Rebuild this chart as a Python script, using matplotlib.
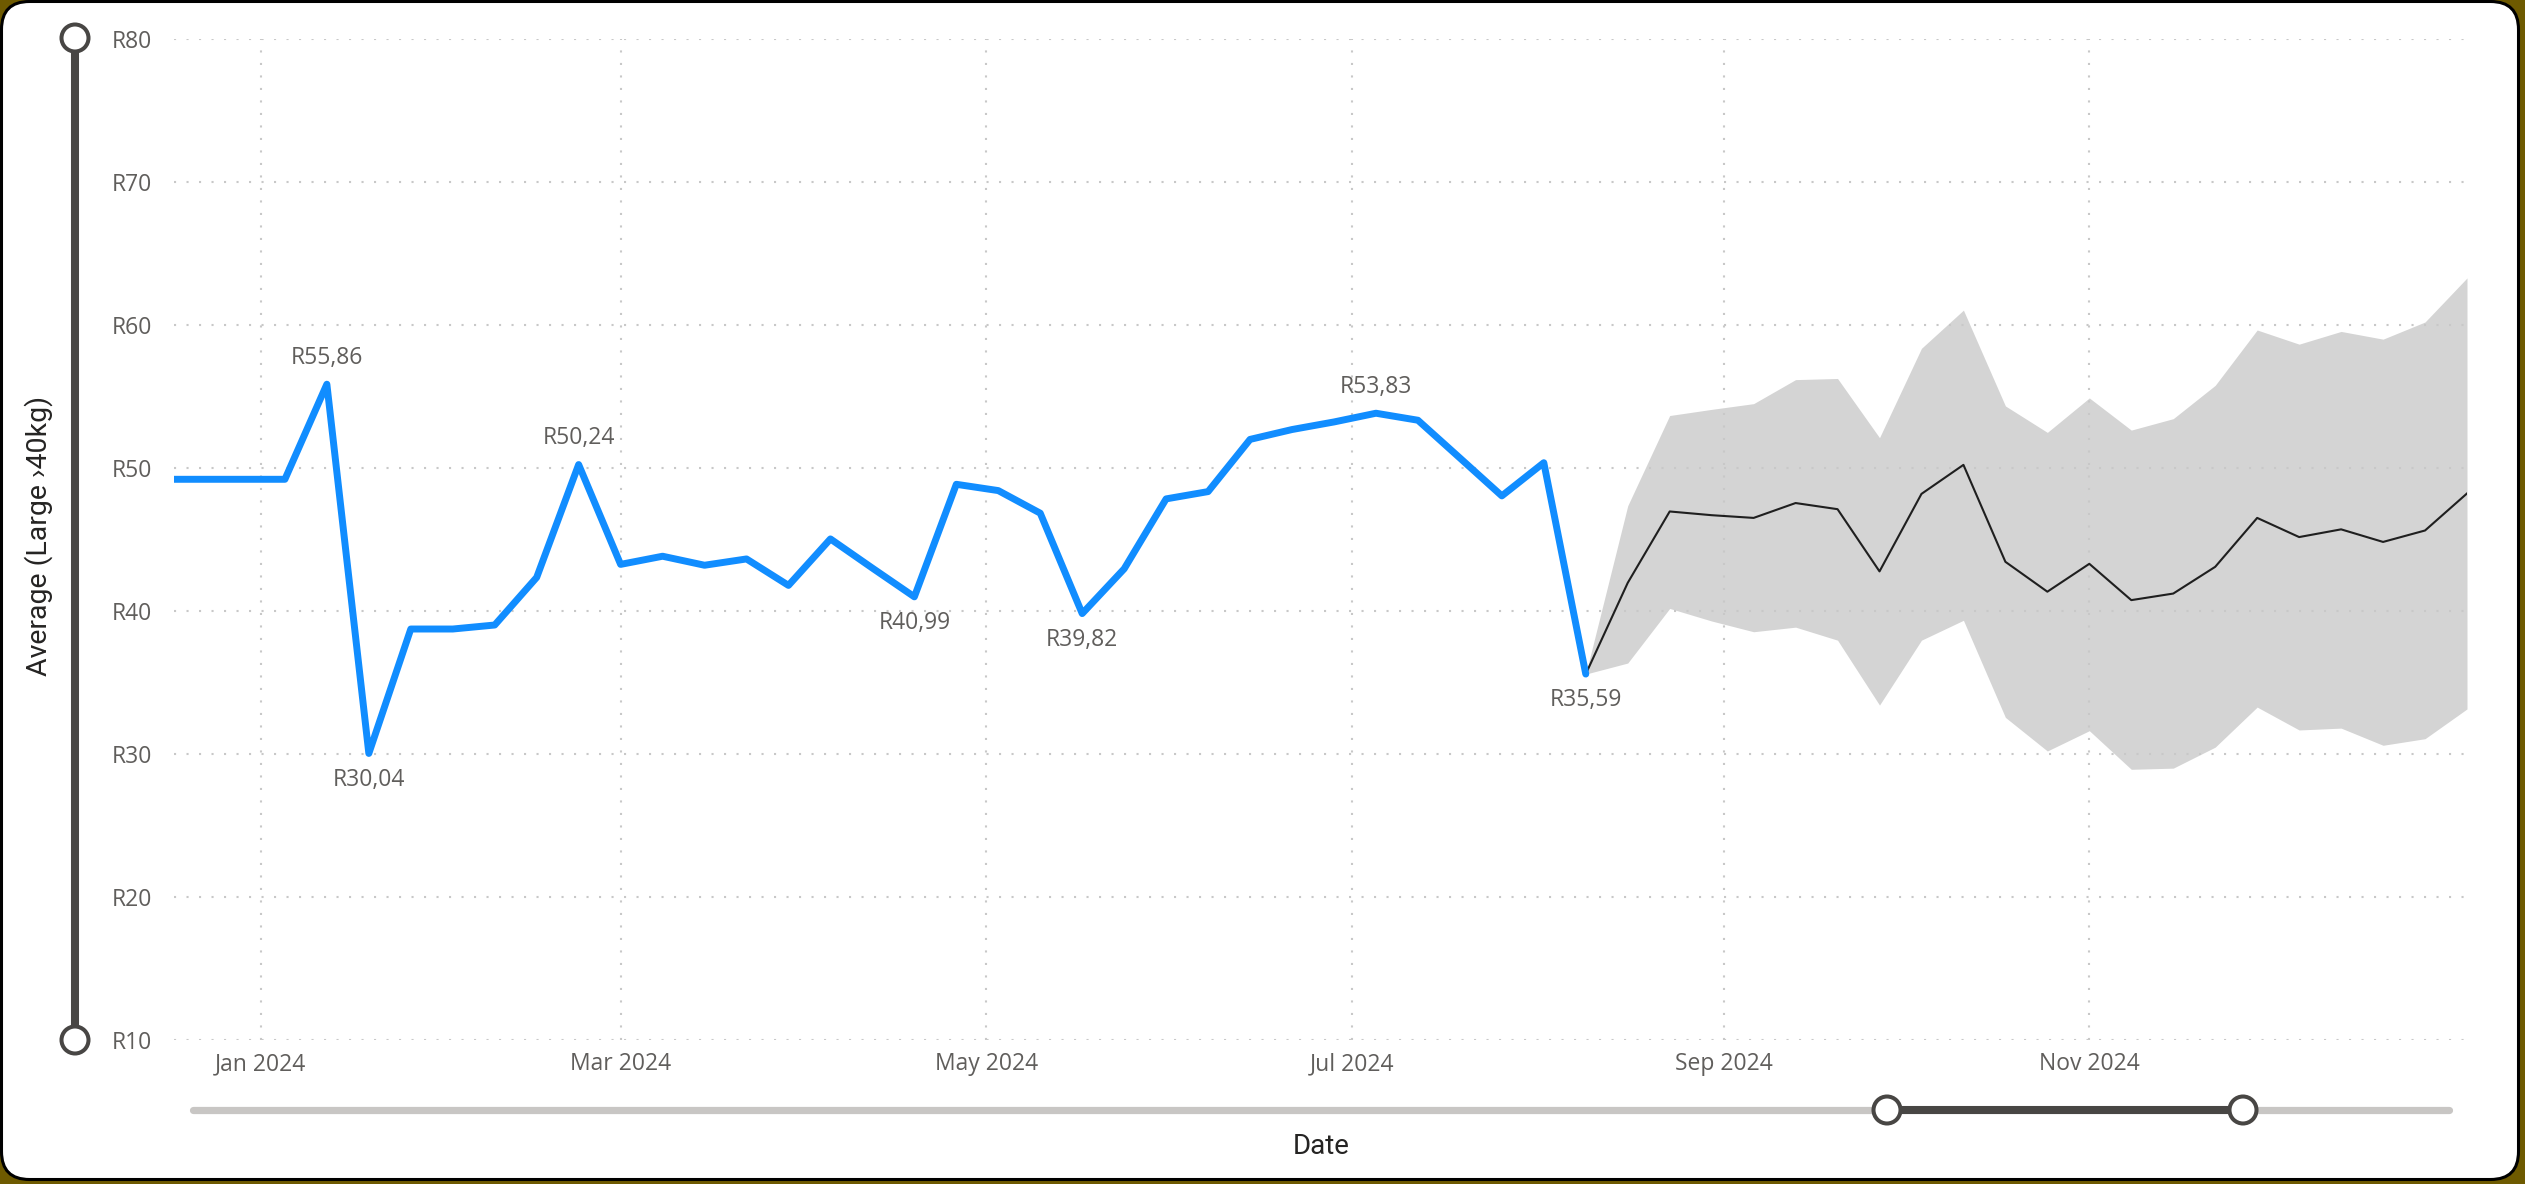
import matplotlib
matplotlib.use("Agg")
import matplotlib.pyplot as plt
from matplotlib.patches import FancyBboxPatch, Circle
import pandas as pd

# ---------------- data ----------------
actual_start = "2023-12-15"   # weekly (Fridays)
actual_values = [49.21, 49.21, 49.21, 49.21, 55.86, 30.04, 38.74, 38.74, 39.02, 42.35,
                 50.24, 43.26, 43.83, 43.20, 43.64, 41.79, 45.04, 43.00, 40.99, 48.86,
                 48.42, 46.84, 39.82, 42.95, 47.84, 48.35, 52.00, 52.69, 53.22, 53.83,
                 53.34, 50.70, 48.05, 50.37, 35.59]

forecast_start = "2024-08-09"
forecast_values = [35.59, 41.97, 46.96, 46.70, 46.51, 47.55, 47.12, 42.77, 48.19, 50.22,
                   43.44, 41.35, 43.30, 40.76, 41.22, 43.09, 46.51, 45.17, 45.71, 44.83,
                   45.63, 48.22]
forecast_upper = [35.59, 47.36, 53.67, 54.10, 54.50, 56.18, 56.26, 52.12, 58.37, 61.04,
                  54.34, 52.49, 54.90, 52.65, 53.45, 55.78, 59.65, 58.66, 59.55, 59.01,
                  60.21, 63.29]
forecast_lower = [35.59, 36.36, 40.18, 39.30, 38.55, 38.87, 37.96, 33.42, 37.96, 39.35,
                  32.56, 30.21, 31.63, 28.93, 29.01, 30.48, 33.28, 31.68, 31.81, 30.61,
                  31.07, 33.15]

labelled_dates = ["2024-01-12", "2024-01-19", "2024-02-23", "2024-04-19",
                  "2024-05-17", "2024-07-05", "2024-08-09"]
labelled_pos = ["above", "below", "above", "below", "below", "above", "below"]

y_ticks = [10, 20, 30, 40, 50, 60, 70, 80]
x_tick_dates = ["2024-01-01", "2024-03-01", "2024-05-01", "2024-07-01",
                "2024-09-01", "2024-11-01"]
x_tick_labels = ["Jan 2024", "Mar 2024", "May 2024", "Jul 2024", "Sep 2024", "Nov 2024"]
x_title = "Date"
y_title = "Average (Large \u203a40kg)"

actual_dates = pd.date_range(actual_start, periods=len(actual_values), freq="7D")
forecast_dates = pd.date_range(forecast_start, periods=len(forecast_values), freq="7D")

# ---------------- styling ----------------
W, H = 2525, 1184
BLUE = "#118DFF"
TICK_C = "#605e5c"
TITLE_C = "#252423"
DARK = "#484644"
GRID_C = "#c8c8c8"
TICK_FONT = ["Open Sans", "DejaVu Sans"]
TITLE_FONT = ["Roboto", "DejaVu Sans"]

fig = plt.figure(figsize=(W / 100, H / 100), dpi=100)
fig.patch.set_facecolor("#6e5a00")

# background card + decorations (pixel coordinates)
bg = fig.add_axes([0, 0, 1, 1], zorder=0)
bg.set_xlim(0, W)
bg.set_ylim(H, 0)
bg.axis("off")
bg.add_patch(FancyBboxPatch((1.5, 1.5), 2517, 1178,
                            boxstyle="round,pad=0,rounding_size=28",
                            fc="white", ec="black", lw=2.2))

# left vertical slider
bg.plot([75, 75], [38, 1040], color=DARK, lw=5.8, solid_capstyle="butt", zorder=2)
for cy in (38, 1040):
    bg.add_patch(Circle((75, cy), 13.5, fc="white", ec=DARK, lw=2.9, zorder=3))

# bottom range slider
bg.plot([193, 2449], [1110, 1110], color="#c8c6c4", lw=5.2, solid_capstyle="round", zorder=2)
bg.plot([1887, 2243], [1110, 1110], color=DARK, lw=5.8, solid_capstyle="butt", zorder=3)
for cx in (1887, 2243):
    bg.add_patch(Circle((cx, 1110), 13.5, fc="white", ec=DARK, lw=2.9, zorder=4))

# axis titles
bg.text(39, 536, y_title, rotation=90, ha="center", va="center",
        fontsize=20.5, color=TITLE_C, family=TITLE_FONT)
bg.text(1321, 1147, x_title, ha="center", va="center",
        fontsize=20, color=TITLE_C, family=TITLE_FONT)

# main plot
left, right, top, bottom = 174, 2467, 39, 1040
ax = fig.add_axes([left / W, 1 - bottom / H, (right - left) / W, (bottom - top) / H], zorder=1)
ax.set_facecolor("none")
for s in ax.spines.values():
    s.set_visible(False)

ax.fill_between(forecast_dates, forecast_lower, forecast_upper, color="#d4d4d4",
                lw=0, zorder=0.3)
ax.plot(forecast_dates, forecast_values, color="#1f1f1f", lw=1.5, zorder=2)
ax.plot(actual_dates, actual_values, color=BLUE, lw=5, solid_joinstyle="round",
        solid_capstyle="round", zorder=3)

ax.set_ylim(10, 80)
ax.set_yticks(y_ticks)
ax.set_yticklabels([f"R{v}" for v in y_ticks])
ax.set_xlim(pd.Timestamp("2023-12-17 12:00"), forecast_dates[-1])
ax.set_xticks(pd.to_datetime(x_tick_dates))
ax.set_xticklabels(x_tick_labels)

ax.set_axisbelow(True)
ax.grid(True, color=GRID_C, lw=1.5, linestyle=(0, (1, 5)))
ax.tick_params(axis="both", length=0, labelcolor=TICK_C, labelsize=16.5)
ax.tick_params(axis="y", pad=16)
ax.tick_params(axis="x", pad=9)
for lab in ax.get_xticklabels() + ax.get_yticklabels():
    lab.set_family(TICK_FONT)

# data labels
lookup = dict(zip(actual_dates, actual_values))
for d, pos in zip(labelled_dates, labelled_pos):
    ts = pd.Timestamp(d)
    v = lookup[ts]
    txt = "R" + f"{v:.2f}".replace(".", ",")
    off = 19 if pos == "above" else -19
    ax.annotate(txt, (ts, v), xytext=(0, off), textcoords="offset points",
                ha="center", va="center", fontsize=16.5, color=TICK_C,
                family=TICK_FONT, zorder=5)

fig.savefig("out.png", dpi=100, facecolor=fig.get_facecolor())
